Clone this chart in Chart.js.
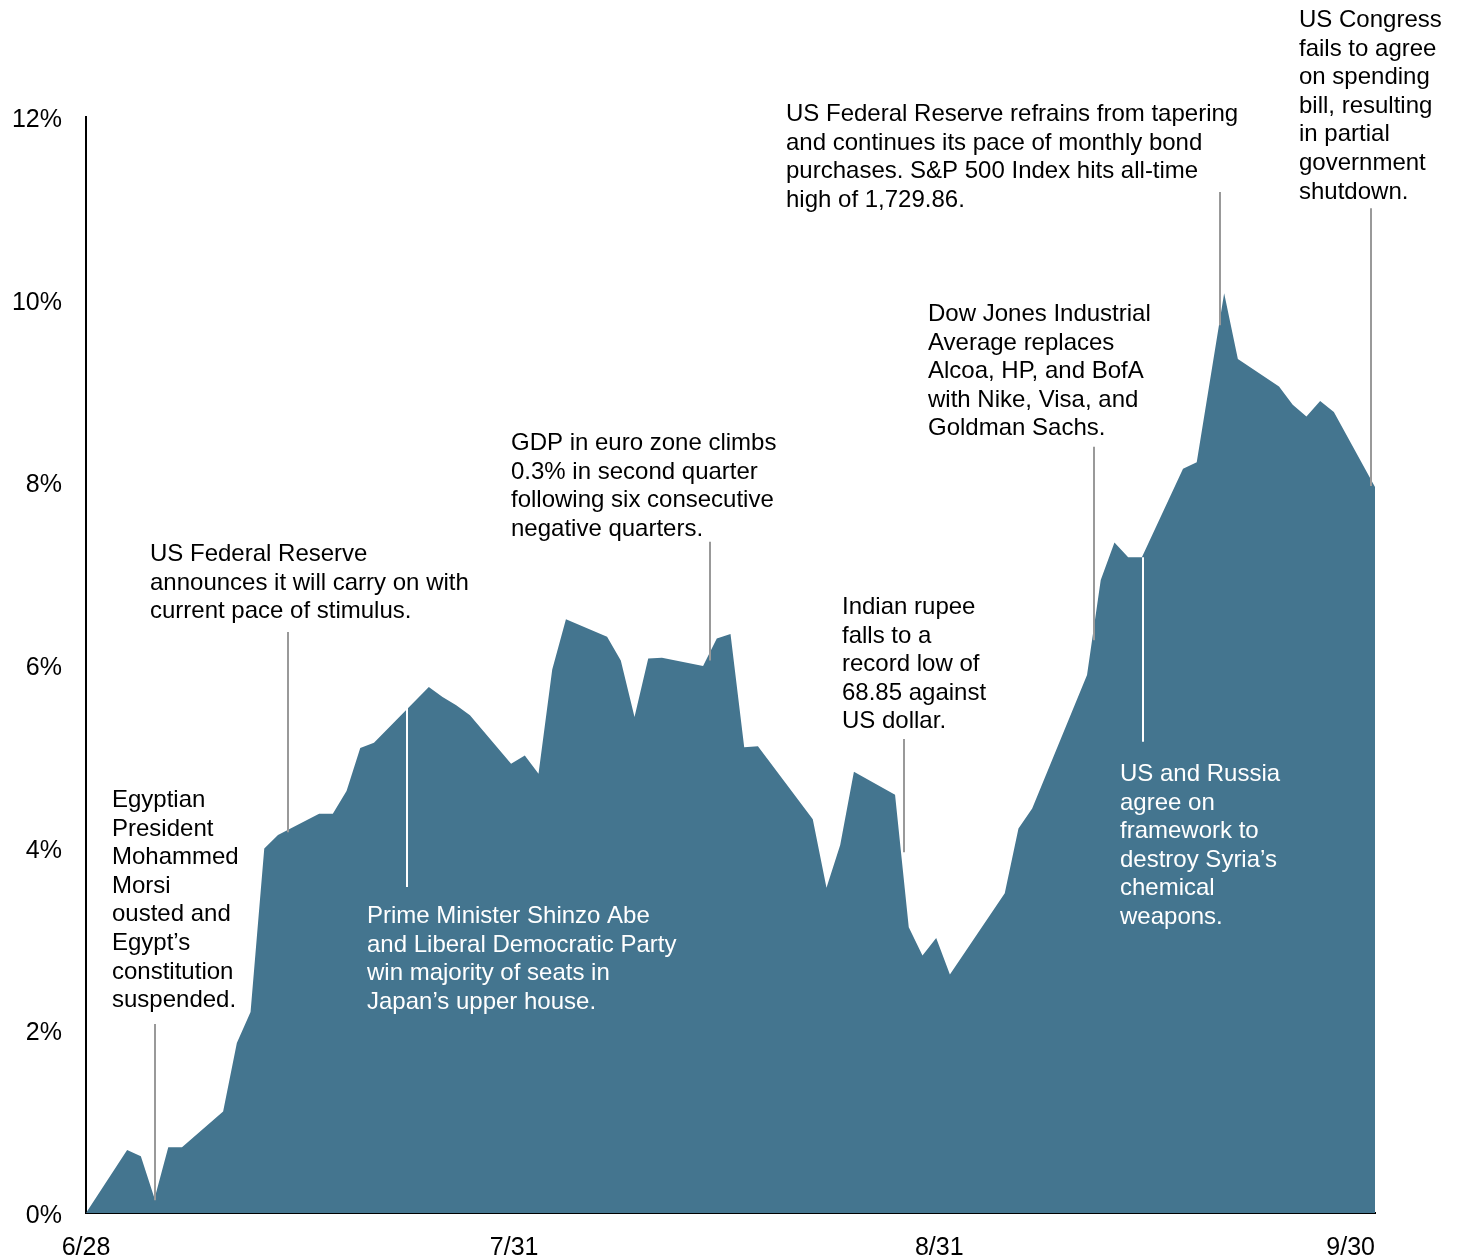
<!DOCTYPE html>
<html>
<head>
<meta charset="utf-8">
<script src="https://cdn.jsdelivr.net/npm/chart.js@4.4.0/dist/chart.umd.min.js"></script>
<style>
  html, body { margin: 0; padding: 0; background: #fff; }
  canvas { display: block; }
</style>
</head>
<body>
<canvas id="myChart" width="1459" height="1259"></canvas>
<script>
// cumulative return, trading days 6/28/2013 - 9/30/2013
var dates = [
  "6/28", "7/1", "7/2", "7/3", "7/4", "7/5", "7/8", "7/9", "7/10", "7/11", "7/12",
  "7/15", "7/16", "7/17", "7/18", "7/19", "7/23", "7/24", "7/25", "7/26",
  "7/29", "7/30", "7/31", "8/1", "8/2", "8/5", "8/6", "8/7", "8/8", "8/9",
  "8/12", "8/13", "8/14", "8/15", "8/16", "8/20", "8/21", "8/22", "8/23",
  "8/26", "8/27", "8/28", "8/29", "8/30", "9/3", "9/4", "9/5",
  "9/9", "9/10", "9/11", "9/12", "9/13", "9/16", "9/17", "9/19", "9/20",
  "9/23", "9/24", "9/25", "9/26", "9/27", "9/30"
];
var returns = [
  0, 0.69, 0.62, 0.16, 0.72, 0.72, 1.11, 1.86, 2.20, 3.99, 4.14,
  4.37, 4.37, 4.62, 5.09, 5.15, 5.76, 5.65, 5.56, 5.45,
  4.92, 5.01, 4.81, 5.95, 6.50, 6.31, 6.05, 5.43, 6.07, 6.08,
  5.99, 6.29, 6.34, 5.10, 5.11, 4.31, 3.56, 4.03, 4.83,
  4.58, 3.13, 2.82, 3.01, 2.61, 3.50, 4.21, 4.43,
  5.89, 6.93, 7.34, 7.18, 7.18, 8.15, 8.22, 10.07, 9.35,
  9.05, 8.85, 8.72, 8.89, 8.77, 7.95
];
var tickLabels = ["6/28", "7/31", "8/31", "9/30"];

// event notes: text block (px) + leader line (day, from %, to %)
var notes = [
  { lines: ["Egyptian", "President", "Mohammed", "Morsi", "ousted and", "Egypt\u2019s", "constitution", "suspended."],
    x: 112, y: 807, color: "#000", lead: [5.03, 2.07, 0.14], leadColor: "#999" },
  { lines: ["US Federal Reserve", "announces it will carry on with", "current pace of stimulus."],
    x: 150, y: 561, color: "#000", lead: [14.73, 6.36, 4.17], leadColor: "#999" },
  { lines: ["Prime Minister Shinzo Abe", "and Liberal Democratic Party", "win majority of seats in", "Japan\u2019s upper house."],
    x: 367, y: 923, color: "#fff", lead: [23.41, 5.55, 3.57], leadColor: "#fff" },
  { lines: ["GDP in euro zone climbs", "0.3% in second quarter", "following six consecutive", "negative quarters."],
    x: 511, y: 450, color: "#000", lead: [45.51, 7.35, 6.05], leadColor: "#999" },
  { lines: ["Indian rupee", "falls to a", "record low of", "68.85 against", "US dollar."],
    x: 842, y: 614, color: "#000", lead: [59.66, 5.19, 3.95], leadColor: "#999" },
  { lines: ["Dow Jones Industrial", "Average replaces", "Alcoa, HP, and BofA", "with Nike, Visa, and", "Goldman Sachs."],
    x: 928, y: 321, color: "#000", lead: [73.52, 8.39, 6.27], leadColor: "#999" },
  { lines: ["US Federal Reserve refrains from tapering", "and continues its pace of monthly bond", "purchases. S&P 500 Index hits all-time", "high of 1,729.86."],
    x: 786, y: 121, color: "#000", lead: [82.71, 11.18, 9.72], leadColor: "#999" },
  { lines: ["US Congress", "fails to agree", "on spending", "bill, resulting", "in partial", "government", "shutdown."],
    x: 1299, y: 27, color: "#000", lead: [93.7, 11.0, 7.96], leadColor: "#999" },
  { lines: ["US and Russia", "agree on", "framework to", "destroy Syria\u2019s", "chemical", "weapons."],
    x: 1120, y: 781, color: "#fff", lead: [77.1, 7.18, 5.16], leadColor: "#fff" }
];

var FONT = '"Liberation Sans", Arial, Helvetica, sans-serif';

function dayIndex(s) {
  var p = s.split("/");
  var d = new Date(2013, +p[0] - 1, +p[1]);
  return Math.round((d - new Date(2013, 5, 28)) / 86400000);
}

var points = dates.map(function(s, i) {
  return { x: dayIndex(s), y: returns[i] };
});

var notesPlugin = {
  id: "notes",
  afterDatasetsDraw: function(chart) {
    var ctx = chart.ctx;
    var xs = chart.scales.x, ys = chart.scales.y;
    ctx.save();
    notes.forEach(function(n) {
      var lx = Math.round(xs.getPixelForValue(n.lead[0]));
      ctx.strokeStyle = n.leadColor;
      ctx.lineWidth = 2;
      ctx.beginPath();
      ctx.moveTo(lx, ys.getPixelForValue(n.lead[1]));
      ctx.lineTo(lx, ys.getPixelForValue(n.lead[2]));
      ctx.stroke();
    });
    ctx.font = "24px " + FONT;
    ctx.textAlign = "left";
    ctx.textBaseline = "alphabetic";
    notes.forEach(function(n) {
      ctx.fillStyle = n.color;
      n.lines.forEach(function(t, i) {
        ctx.fillText(t, n.x, n.y + i * 28.6);
      });
    });
    ctx.restore();
  },
  afterDraw: function(chart) {
    // date labels: first one centred, the rest end at their date
    var ctx = chart.ctx;
    var xs = chart.scales.x;
    ctx.save();
    ctx.font = "25px " + FONT;
    ctx.fillStyle = "#000";
    ctx.textBaseline = "alphabetic";
    tickLabels.forEach(function(t, i) {
      ctx.textAlign = i === 0 ? "center" : "right";
      ctx.fillText(t, xs.getPixelForValue(dayIndex(t)), chart.chartArea.bottom + 42);
    });
    ctx.restore();
  }
};

var ctx = document.getElementById("myChart");
new Chart(ctx, {
  type: "line",
  data: {
    datasets: [{
      data: points,
      fill: "origin",
      backgroundColor: "#44758f",
      borderColor: "rgba(0,0,0,0)",
      borderWidth: 0,
      pointRadius: 0,
      tension: 0
    }]
  },
  options: {
    responsive: false,
    animation: false,
    layout: { padding: { top: 117, right: 84, left: 0, bottom: 0 } },
    plugins: { legend: { display: false }, tooltip: { enabled: false } },
    scales: {
      x: {
        type: "linear",
        min: 0,
        max: dayIndex("9/30"),
        z: 1,
        grid: { display: false, drawTicks: false },
        border: { display: true, color: "#000", width: 2 },
        ticks: { display: false },
        afterFit: function(scale) { scale.height = 46; }
      },
      y: {
        min: 0,
        max: 12,
        z: 1,
        grid: { display: false, drawTicks: false },
        border: { display: true, color: "#000", width: 2 },
        ticks: {
          stepSize: 2,
          padding: 24,
          labelOffset: 3,
          color: "#000",
          font: { family: FONT, size: 25 },
          callback: function(v) { return v + "%"; }
        },
        afterFit: function(scale) { scale.width = 86; }
      }
    }
  },
  plugins: [notesPlugin]
});
</script>
</body>
</html>
